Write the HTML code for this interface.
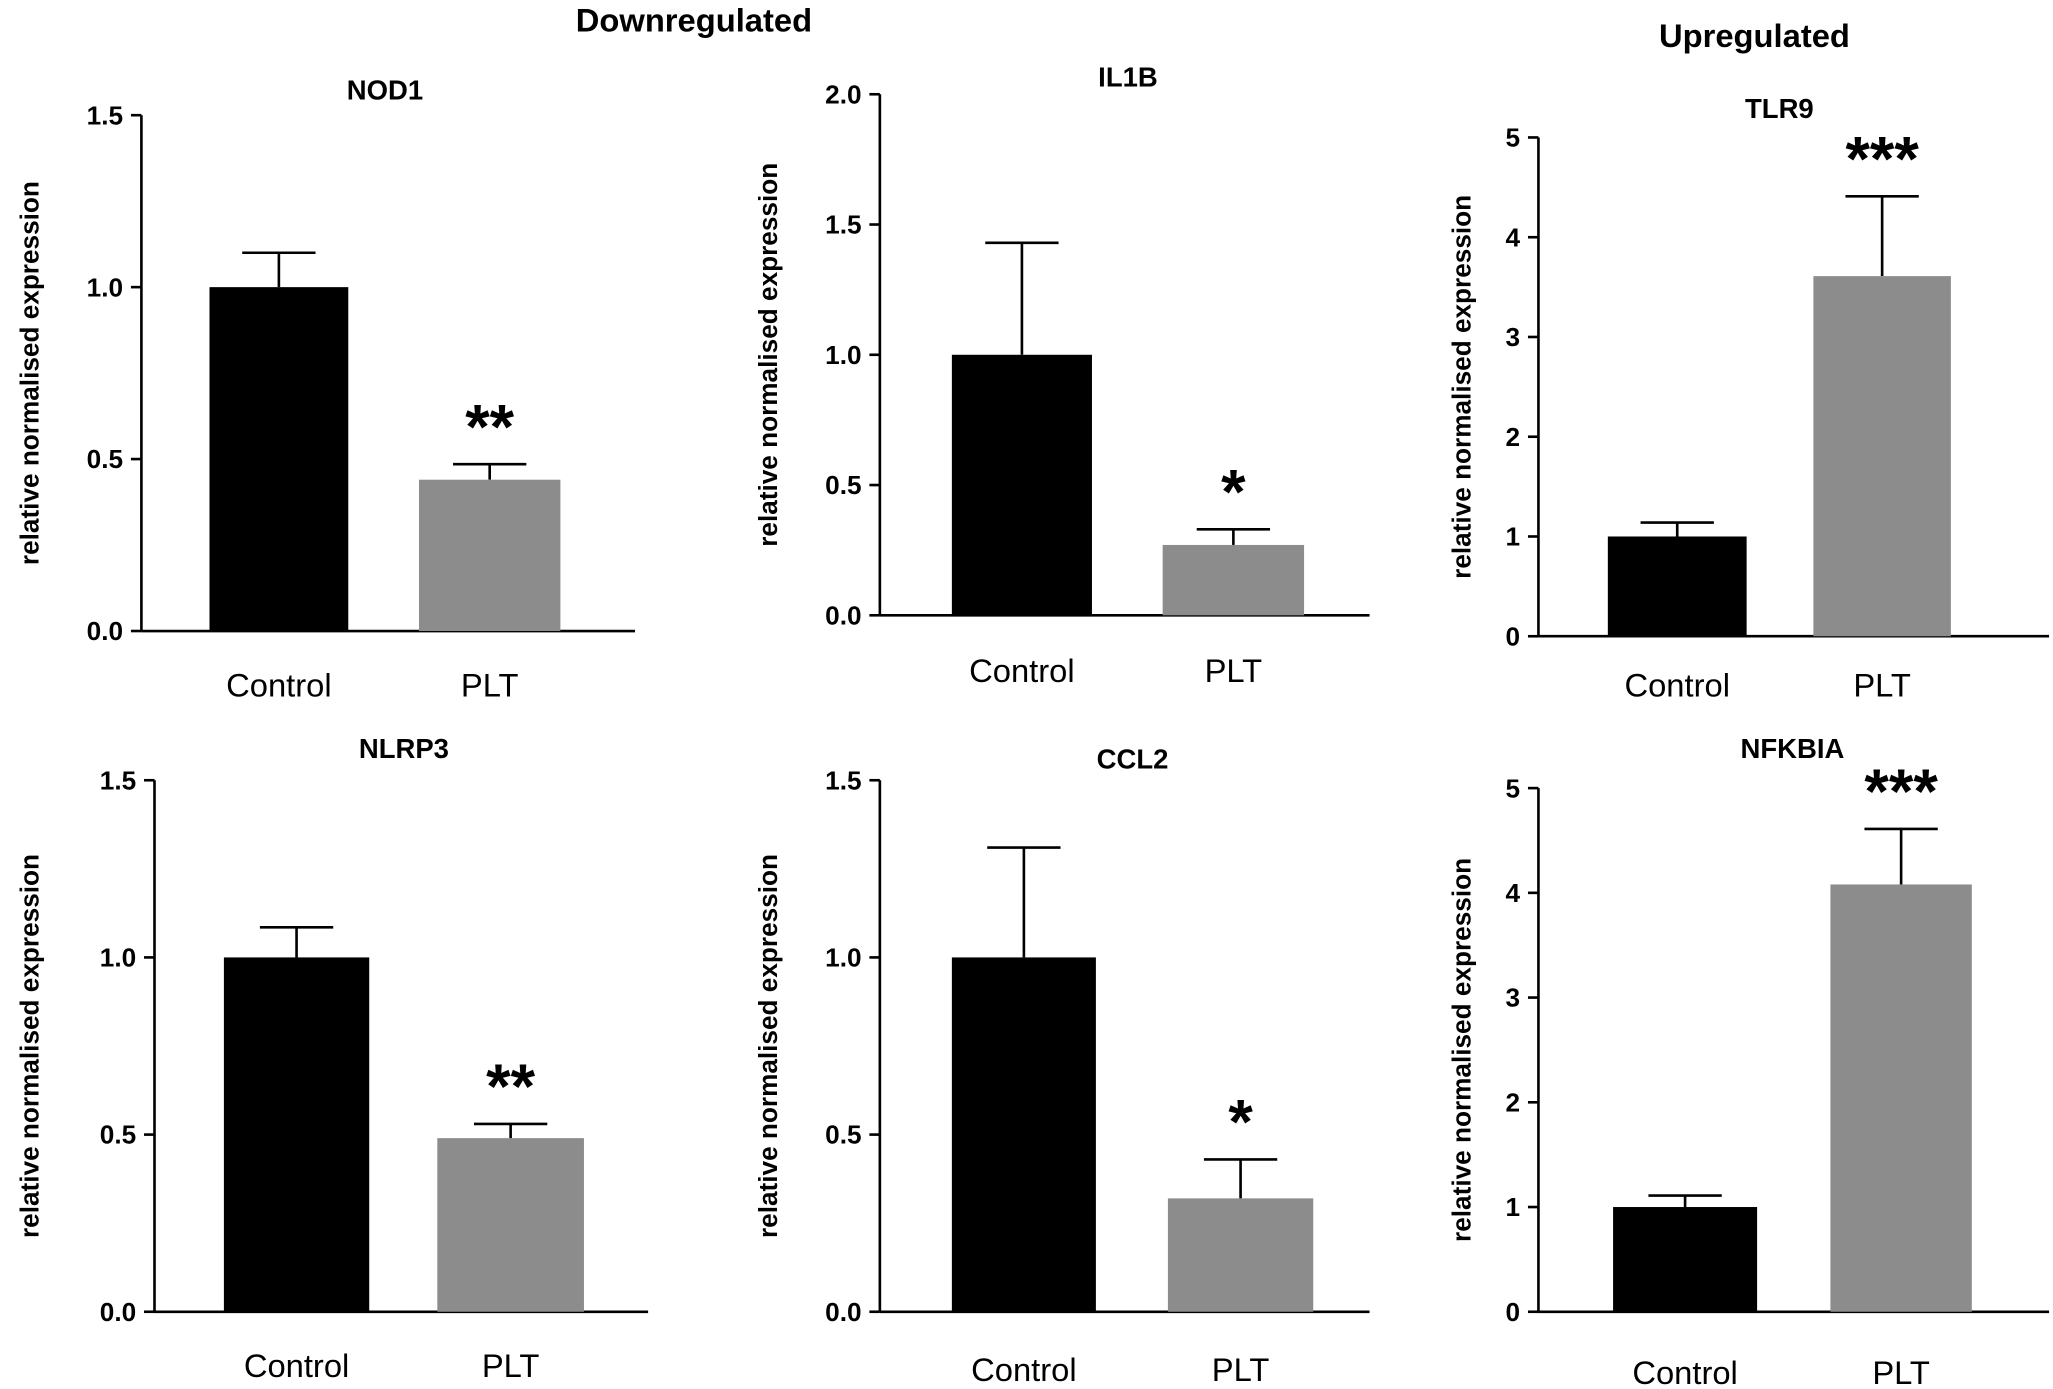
<!DOCTYPE html>
<html><head><meta charset="utf-8"><style>
html,body{margin:0;padding:0;background:#fff}
svg{display:block}
text{font-family:"Liberation Sans",Arial,sans-serif}
</style></head><body>
<svg id="chart" width="2053" height="1389" viewBox="0 0 1568 1061" preserveAspectRatio="none" xmlns="http://www.w3.org/2000/svg">
<text x="530" y="24" text-anchor="middle" font-size="25" font-weight="bold">Downregulated</text>
<text x="1340" y="36" text-anchor="middle" font-size="25" font-weight="bold">Upregulated</text>
</svg>
<script>
const genes = ["NOD1","IL1B","TLR9","NLRP3","CCL2","NFKBIA"];
const categories = ["Control","PLT"];
const controlMeans = [1.0, 1.0, 1.0, 1.0, 1.0, 1.0];
const controlErrors = [0.10, 0.43, 0.14, 0.085, 0.31, 0.11];
const pltMeans = [0.44, 0.27, 3.61, 0.49, 0.32, 4.08];
const pltErrors = [0.045, 0.06, 0.80, 0.04, 0.11, 0.53];
const significance = ["**","*","***","**","*","***"];
const yMaxes = [1.5, 2.0, 5, 1.5, 1.5, 5];
const tickStep = [0.5, 0.5, 1, 0.5, 0.5, 1];
const tickDecimals = [1, 1, 0, 1, 1, 0];

const layout = [
 {ax:108, top:88, bot:482, right:485, b0:[160,266], b1:[320,428], lblY:532, titleY:76, ylx:24},
 {ax:672, top:72, bot:470, right:1046, b0:[727,834], b1:[888,996], lblY:521, titleY:66, ylx:588},
 {ax:1175, top:105, bot:486, right:1565, b0:[1228,1334], b1:[1385,1490], lblY:532, titleY:90, ylx:1118},
 {ax:118, top:596, bot:1002, right:495, b0:[171,282], b1:[334,446], lblY:1052, titleY:579, ylx:24},
 {ax:672, top:596, bot:1002, right:1046, b0:[727,837], b1:[892,1003], lblY:1055, titleY:587, ylx:588},
 {ax:1175, top:602, bot:1002, right:1565, b0:[1232,1342], b1:[1398,1506], lblY:1057, titleY:579, ylx:1118}
];
const NS = "http://www.w3.org/2000/svg";
const svg = document.getElementById("chart");
function mk(tag, attrs, parent){
  const e = document.createElementNS(NS, tag);
  for (const k in attrs) e.setAttribute(k, attrs[k]);
  (parent||svg).appendChild(e);
  return e;
}
genes.forEach((g, i) => {
  const L = layout[i];
  const y = v => L.bot - (v / yMaxes[i]) * (L.bot - L.top);
  const grp = mk("g", {});
  
  
  const cx = (L.b0[0] + L.b1[1]) / 2;
  const t = mk("text", {x:cx, y:L.titleY, "text-anchor":"middle", "font-size":"21", "font-weight":"bold"}, grp);
  t.textContent = g;
  
  
  const ya = mk("line", {x1:L.ax, y1:L.top, x2:L.ax, y2:L.bot, stroke:"#000", "stroke-width":"2"}, grp);
  
  
  const xa = mk("line", {x1:L.ax, y1:L.bot, x2:L.right, y2:L.bot, stroke:"#000", "stroke-width":"2"}, grp);
  
  
  for (let v = 0; v <= yMaxes[i] + 1e-9; v += tickStep[i]) {
    mk("line", {x1:L.ax-8, y1:y(v), x2:L.ax, y2:y(v), stroke:"#000", "stroke-width":"2"}, grp);
    const tl = mk("text", {x:L.ax-14, y:y(v)+7, "text-anchor":"end", "font-size":"20", "font-weight":"bold"}, grp);
    tl.textContent = v.toFixed(tickDecimals[i]);
    
    
  }
  const cy = (L.top + L.bot) / 2;
  const yl = mk("text", {x:L.ylx, y:cy, transform:`rotate(-90 ${L.ylx} ${cy})`, "text-anchor":"middle", "font-size":"20", "font-weight":"bold", "dominant-baseline":"middle"}, grp);
  yl.textContent = "relative normalised expression";
  
  
  const means = [controlMeans[i], pltMeans[i]];
  const errs = [controlErrors[i], pltErrors[i]];
  const xs = [L.b0, L.b1];
  const cols = ["#000", "#8c8c8c"];
  means.forEach((m, j) => {
    const [x0, x1] = xs[j];
    const mx = (x0 + x1) / 2;
    const et = y(m + errs[j]);
    mk("line", {x1:mx, y1:y(m), x2:mx, y2:et, stroke:"#000", "stroke-width":"2"}, grp);
    mk("line", {x1:mx-28, y1:et, x2:mx+28, y2:et, stroke:"#000", "stroke-width":"2"}, grp);
    const r = mk("rect", {x:x0, y:y(m), width:x1-x0, height:L.bot - y(m), fill:cols[j]}, grp);
    
    
    const cl = mk("text", {x:mx, y:L.lblY, "text-anchor":"middle", "font-size":"25"}, grp);
    cl.textContent = categories[j];
    
    
    if (j === 1) {
      const s = mk("text", {x:mx, y:et - 12, "text-anchor":"middle", "font-size":"48", "font-weight":"bold"}, grp);
      s.textContent = significance[i];
      
      
    }
  });
});
</script>
</body></html>
